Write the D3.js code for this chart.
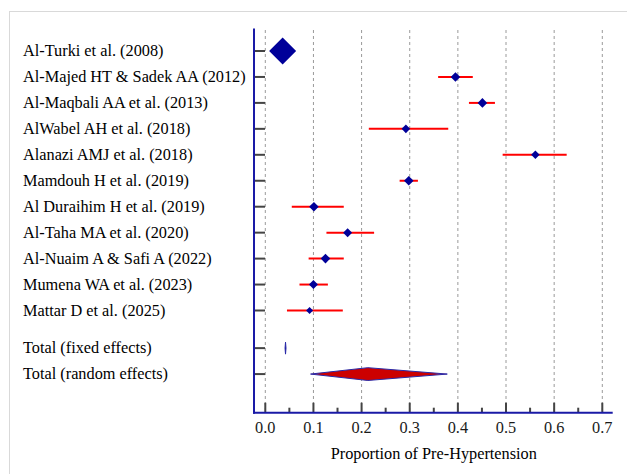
<!DOCTYPE html>
<html>
<head>
<meta charset="utf-8">
<script src="https://cdn.jsdelivr.net/npm/d3@7"></script>
<style>
  body { margin: 0; background: #fff; }
  svg { display: block; }
</style>
</head>
<body>
<script>
// study data
const studies = [
  'Al-Turki et al. (2008)',
  'Al-Majed HT & Sadek AA (2012)',
  'Al-Maqbali AA et al. (2013)',
  'AlWabel AH et al. (2018)',
  'Alanazi AMJ et al. (2018)',
  'Mamdouh H et al. (2019)',
  'Al Duraihim H et al. (2019)',
  'Al-Taha MA et al. (2020)',
  'Al-Nuaim A & Safi A (2022)',
  'Mumena WA et al. (2023)',
  'Mattar D et al. (2025)'
];
const proportion = [0.036, 0.395, 0.451, 0.292, 0.561, 0.298, 0.101, 0.171, 0.125, 0.100, 0.092];
const ciLow  = [0.031, 0.359, 0.423, 0.215, 0.493, 0.279, 0.055, 0.127, 0.090, 0.071, 0.045];
const ciHigh = [0.041, 0.431, 0.477, 0.380, 0.626, 0.317, 0.163, 0.226, 0.163, 0.130, 0.161];
const relWeight = [100, 12.6, 12.6, 10.1, 10.1, 12.6, 12.6, 11.1, 12.6, 11.1, 6.7];

const totals = ['Total (fixed effects)', 'Total (random effects)'];
const totalEst  = [0.042, 0.213];
const totalLow  = [0.041, 0.094];
const totalHigh = [0.043, 0.378];

const xTicks = [0, 0.1, 0.2, 0.3, 0.4, 0.5, 0.6, 0.7];

const W = 627, H = 474;
const FONT = "'Liberation Serif', 'Times New Roman'";
const svg = d3.select('body').append('svg')
  .attr('width', W)
  .attr('height', H);

// light frame round the whole figure
svg.append('rect')
  .attr('x', 9.5).attr('y', 11.5)
  .attr('width', 640).attr('height', 500)
  .attr('fill', 'none')
  .attr('stroke', '#d9d9d9');

const x = d3.scaleLinear().domain([0, 0.7]).range([265.3, 602.3]);
// row index -> y ; totals sit after a small gap
const y = d3.scaleLinear().domain([0, 10]).range([51, 310.5]);
const totalRows = [11.45, 12.45];
const size = d3.scaleSqrt().domain([0, 100]).range([0, 13.5]);

const axisLeft = 254, axisTop = 28.5, axisBottom = 412.7, axisRight = 612.7;

// dashed grid lines
svg.append('g')
  .selectAll('line')
  .data(xTicks)
  .enter()
  .append('line')
  .attr('x1', d => x(d)).attr('x2', d => x(d))
  .attr('y1', 30).attr('y2', axisBottom)
  .attr('stroke', '#9a9a9a')
  .attr('stroke-width', 1)
  .attr('stroke-dasharray', '3,3');

// row ticks on the y axis
const rowYs = studies.map((s, i) => y(i)).concat(totalRows.map(r => y(r)));
svg.append('g')
  .selectAll('line')
  .data(rowYs)
  .enter()
  .append('line')
  .attr('x1', axisLeft).attr('x2', axisLeft + 11)
  .attr('y1', d => d).attr('y2', d => d)
  .attr('stroke', '#444')
  .attr('stroke-width', 2);

// x axis ticks (major + minor)
const minor = d3.range(0.05, 0.7, 0.1);
svg.append('g')
  .selectAll('line')
  .data(xTicks.map(v => ({ v: v, len: 10 })).concat(minor.map(v => ({ v: v, len: 5 }))))
  .enter()
  .append('line')
  .attr('x1', d => x(d.v)).attr('x2', d => x(d.v))
  .attr('y1', axisBottom).attr('y2', d => axisBottom - d.len)
  .attr('stroke', '#444')
  .attr('stroke-width', 2);

// axes lines
svg.append('line')
  .attr('x1', axisLeft).attr('x2', axisLeft)
  .attr('y1', axisTop).attr('y2', axisBottom + 1)
  .attr('stroke', '#1a1aa6')
  .attr('stroke-width', 2);
svg.append('line')
  .attr('x1', axisLeft - 1).attr('x2', axisRight)
  .attr('y1', axisBottom).attr('y2', axisBottom)
  .attr('stroke', '#1a1aa6')
  .attr('stroke-width', 2);

// tick labels
svg.append('g')
  .selectAll('text')
  .data(xTicks)
  .enter()
  .append('text')
  .attr('x', d => x(d))
  .attr('y', 433)
  .attr('text-anchor', 'middle')
  .style('font-family', FONT)
  .style('font-size', '16.3px')
  .attr('fill', '#1a1a1a')
  .text(d => d3.format('.1f')(d));

svg.append('text')
  .attr('x', (x(0) + x(0.7)) / 2)
  .attr('y', 459)
  .attr('text-anchor', 'middle')
  .style('font-family', FONT)
  .style('font-size', '16.3px')
  .attr('fill', '#000')
  .text('Proportion of Pre-Hypertension');

// study labels
svg.append('g')
  .selectAll('text')
  .data(studies.concat(totals))
  .enter()
  .append('text')
  .attr('x', 23)
  .attr('y', (d, i) => rowYs[i] + 5)
  .style('font-family', FONT)
  .style('font-size', '16.3px')
  .attr('fill', '#000')
  .text(d => d);

// confidence intervals
svg.append('g')
  .selectAll('line')
  .data(studies)
  .enter()
  .append('line')
  .attr('x1', (d, i) => x(ciLow[i]))
  .attr('x2', (d, i) => x(ciHigh[i]))
  .attr('y1', (d, i) => y(i))
  .attr('y2', (d, i) => y(i))
  .attr('stroke', '#ff0000')
  .attr('stroke-width', 2);

// weighted markers
svg.append('g')
  .selectAll('path')
  .data(studies)
  .enter()
  .append('path')
  .attr('d', (d, i) => {
    const cx = x(proportion[i]), cy = y(i), r = size(relWeight[i]);
    return `M${cx - r},${cy}L${cx},${cy - r}L${cx + r},${cy}L${cx},${cy + r}Z`;
  })
  .attr('fill', '#000099');

// pooled diamonds
const halfH = [6, 6.4];
const fills = ['#000099', '#cc0000'];
svg.append('g')
  .selectAll('path')
  .data(totals)
  .enter()
  .append('path')
  .attr('d', (d, i) => {
    const cy = y(totalRows[i]);
    return `M${x(totalLow[i])},${cy}L${x(totalEst[i])},${cy - halfH[i]}L${x(totalHigh[i])},${cy}L${x(totalEst[i])},${cy + halfH[i]}Z`;
  })
  .attr('fill', (d, i) => fills[i])
  .attr('stroke', '#2a2aa8')
  .attr('stroke-width', 1);
</script>
</body>
</html>
